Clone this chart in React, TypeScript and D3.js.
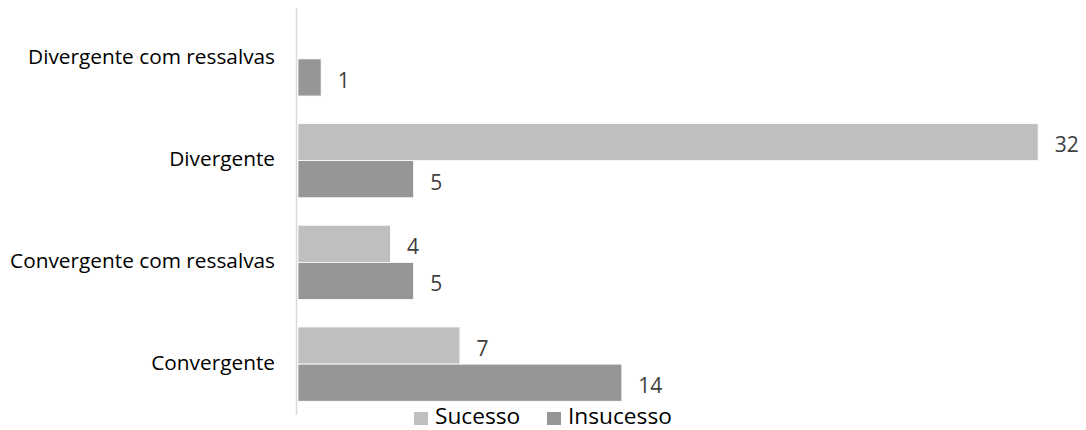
import React from "react";
import * as d3 from "d3";

const categories = ["Divergente com ressalvas", "Divergente", "Convergente com ressalvas", "Convergente"];
const seriesNames = ["Sucesso", "Insucesso"];
const sucesso: (number | null)[] = [null, 32, 4, 7];
const insucesso: (number | null)[] = [1, 5, 5, 14];
const colors = ["#bfbfbf", "#969696"];

const W = 1086;
const H = 430;
const FONT = "'Open Sans', sans-serif";

export default function App() {
  const x = d3.scaleLinear().domain([0, 35]).range([298, 298 + 35 * 23.13]);
  const y = d3.scaleBand<string>().domain(categories).range([8, 415]).padding(0);
  const inner = d3
    .scaleBand<string>()
    .domain(seriesNames)
    .range([0, y.bandwidth()])
    .paddingInner(0)
    .paddingOuter(0.37);
  const series = [sucesso, insucesso];
  const legendX = [414, 547];

  return (
    <svg width={W} height={H} style={{ position: "absolute", left: 0, top: 0, background: "#fff" }}>
      {categories.map((c, i) => (
        <g key={c}>
          <text
            x={275}
            y={(y(c) ?? 0) + y.bandwidth() / 2 + 5.5}
            textAnchor="end"
            fontFamily={FONT}
            fontSize={20.8}
            fill="#000"
          >
            {c}
          </text>
          {series.map((s, j) => {
            const v = s[i];
            if (v == null) return null;
            const by = (y(c) ?? 0) + (inner(seriesNames[j]) ?? 0);
            const bh = inner.bandwidth();
            return (
              <g key={j}>
                <rect
                  x={x(0)}
                  y={by}
                  width={x(v) - x(0)}
                  height={bh}
                  fill={colors[j]}
                  stroke="#fff"
                  strokeWidth={0.8}
                />
                <text
                  x={x(v) + 16.5}
                  y={by + bh / 2 + 10.4}
                  fontFamily={FONT}
                  fontSize={21}
                  fill="#404040"
                >
                  {v}
                </text>
              </g>
            );
          })}
        </g>
      ))}
      <line x1={296.5} x2={296.5} y1={8} y2={415} stroke="#d9d9d9" strokeWidth={1.5} />
      {seriesNames.map((n, j) => {
        const lx = legendX[j];
        return (
          <g key={n}>
            <rect x={lx} y={412} width={14} height={13} fill={colors[j]} />
            <text x={lx + 21} y={424} fontFamily={FONT} fontSize={22.7} fill="#000">
              {n}
            </text>
          </g>
        );
      })}
    </svg>
  );
}
